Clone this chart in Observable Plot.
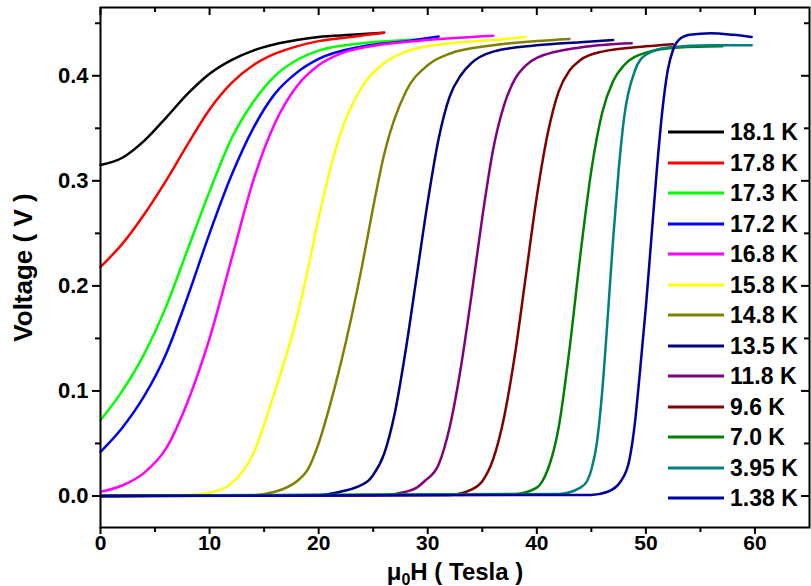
<!DOCTYPE html>
<html><head><meta charset="utf-8">
<script src="https://cdn.jsdelivr.net/npm/d3@7"></script>
<script src="https://cdn.jsdelivr.net/npm/@observablehq/plot@0.6"></script>
<style>
body{margin:0;background:#fff;}
#wrap{position:relative;width:811px;height:586px;font-family:"Liberation Sans",Arial,sans-serif;}
#legend{position:absolute;left:668px;top:117px;}
.row{display:flex;align-items:center;height:30.5px;}
.row svg{width:56px;height:6px;margin-right:6px;display:block}
.row span{font-size:23px;font-weight:bold;color:#000;line-height:30.5px;white-space:nowrap}
</style></head>
<body><div id="wrap"></div>
<script>
// ---- data ----
const temps  = ["18.1 K","17.8 K","17.3 K","17.2 K","16.8 K","15.8 K","14.8 K","13.5 K","11.8 K","9.6 K","7.0 K","3.95 K","1.38 K"];
const colors = ["#000000","#ff0000","#00ff00","#0000ff","#ff00ff","#ffff00","#808000","#000080","#800080","#800000","#008000","#008080","#0000a0"];

const H_181 = [0,2,4,6,8,10,12,14,16,18,20,23,26];
const V_181 = [0.315,0.322,0.338,0.36,0.383,0.402,0.415,0.424,0.43,0.434,0.437,0.439,0.441];
const H_178 = [0,2,4,6,8,10,12,14,16,18,20,23,26];
const V_178 = [0.218,0.24,0.268,0.3,0.335,0.368,0.393,0.41,0.421,0.428,0.433,0.437,0.441];
const H_173 = [0,2,4,6,8,10,12,14,16,18,20,24,28,30];
const V_173 = [0.072,0.1,0.135,0.18,0.235,0.29,0.34,0.375,0.4,0.415,0.424,0.431,0.434,0.435];
const H_172 = [0,2,4,6,8,10,12,14,16,18,20,24,28,31];
const V_172 = [0.042,0.065,0.095,0.135,0.19,0.25,0.305,0.35,0.383,0.403,0.416,0.428,0.433,0.4375];
const H_168 = [0,2,4,6,8,10,12,14,16,18,20,22,26,30,36];
const V_168 = [0.004,0.01,0.022,0.045,0.09,0.15,0.225,0.3,0.355,0.39,0.41,0.421,0.43,0.434,0.438];
const H_158 = [0,8,10,12,14,16,18,19,20,22,24,26,28,32,36,39];
const V_158 = [0,0.001,0.003,0.012,0.04,0.1,0.17,0.215,0.265,0.345,0.39,0.412,0.423,0.431,0.434,0.437];
const H_148 = [0,14,16,18,19,20,21,22,23,24,25,26,28,30,32,36,40,43];
const V_148 = [0,0.001,0.004,0.014,0.025,0.05,0.085,0.125,0.17,0.22,0.275,0.325,0.385,0.41,0.421,0.429,0.433,0.435];
const H_135 = [0,20,22,24.5,25,26,27,28,29,30,31,32,33,34,36,40,44,47];
const V_135 = [0,0.001,0.004,0.014,0.02,0.04,0.08,0.14,0.21,0.28,0.34,0.38,0.4,0.412,0.423,0.429,0.432,0.434];
const H_118 = [0,26,28,29,29.7,31,32,33,34,35,36,37,38,39,40,44,48.7];
const V_118 = [0,0.001,0.004,0.008,0.014,0.03,0.065,0.12,0.19,0.265,0.33,0.372,0.397,0.41,0.417,0.427,0.431];
const H_96  = [0,32,34,35,36,37,38,39,40,41,42,43,44,46,50,52.5];
const V_96  = [0,0.001,0.006,0.014,0.035,0.075,0.135,0.21,0.285,0.345,0.385,0.405,0.415,0.423,0.428,0.43];
const H_70  = [0,38,40,40.5,41,42,43,44,45,46,47,48,50,53,57];
const V_70  = [0,0.002,0.008,0.014,0.025,0.065,0.14,0.23,0.31,0.365,0.395,0.41,0.422,0.427,0.428];
const H_395 = [0,42,44,44.6,45,45.5,46,46.5,47,47.5,48,49,50,52,56,59.7];
const V_395 = [0,0.002,0.008,0.014,0.025,0.05,0.1,0.17,0.245,0.31,0.36,0.405,0.42,0.427,0.429,0.429];
const H_138 = [0,45,46.5,47.7,48.5,49,49.4,50,50.5,51,51.5,52,52.5,53,54,56,58,59.7];
const V_138 = [0,0.001,0.004,0.014,0.035,0.07,0.112,0.18,0.245,0.31,0.366,0.405,0.425,0.434,0.439,0.4405,0.439,0.437];

const seriesH = [H_181,H_178,H_173,H_172,H_168,H_158,H_148,H_135,H_118,H_96,H_70,H_395,H_138];
const seriesV = [V_181,V_178,V_173,V_172,V_168,V_158,V_148,V_135,V_118,V_96,V_70,V_395,V_138];

const xMajor = [0,10,20,30,40,50,60];
const xMinor = [5,15,25,35,45,55];
const yMajor = [0,0.1,0.2,0.3,0.4];
const yMinor = [0.05,0.15,0.25,0.35,0.45];

// ---- chart ----
const W = 811, HT = 586, mL = 100, mR = 2, mT = 7, mB = 59;
const pw = W - mL - mR, ph = HT - mT - mB;
const font = '"Liberation Sans", Arial, sans-serif';

const lineMarks = seriesH.map((hs, i) =>
  Plot.line(hs.map((h, j) => ({h, v: seriesV[i][j]})), {
    x: "h", y: "v", stroke: colors[i], strokeWidth: 2.5, curve: "monotone-x"
  })
);

const chart = Plot.plot({
  width: W, height: HT,
  marginLeft: mL, marginRight: mR, marginTop: mT, marginBottom: mB,
  x: {domain: [0, 65]},
  y: {domain: [-0.03, 0.465]},
  style: {fontFamily: font, color: "#000", background: "#fff"},
  marks: [
    ...lineMarks,
    Plot.frame({stroke: "#000", strokeWidth: 2}),
    Plot.axisX({ticks: xMajor, tickSize: 7, tickPadding: 1, tickFormat: d => String(d), fontSize: 21, fontWeight: "bold", strokeWidth: 2, label: null}),
    Plot.axisX({ticks: xMinor, tickSize: 5, tickFormat: () => "", strokeWidth: 2, label: null}),
    Plot.axisY({ticks: yMajor, tickSize: 8, tickPadding: 4, tickFormat: d3.format(".1f"), fontSize: 22, fontWeight: "bold", strokeWidth: 2, label: null}),
    Plot.axisY({ticks: yMinor, tickSize: 5, tickFormat: () => "", strokeWidth: 2, label: null}),
    Plot.tickX(xMajor, {x: d => d, insetBottom: ph - 8, strokeWidth: 2}),
    Plot.tickX(xMinor, {x: d => d, insetBottom: ph - 5, strokeWidth: 2}),
    Plot.tickY(yMajor, {y: d => d, insetLeft: pw - 8, strokeWidth: 2}),
    Plot.tickY(yMinor, {y: d => d, insetLeft: pw - 5, strokeWidth: 2}),
    Plot.axisY({ticks: [], label: "Voltage ( V )", labelAnchor: "center", labelArrow: "none", labelOffset: 87, fontSize: 26, fontWeight: "bold"}),
    Plot.axisX({ticks: [], label: "μ0H ( Tesla )", labelAnchor: "center", labelArrow: "none", labelOffset: 52, fontSize: 24, fontWeight: "bold"})
  ]
});

// subscript 0 in the x label
d3.select(chart).selectAll("text").each(function() {
  if (this.textContent === "μ0H ( Tesla )") {
    const t = d3.select(this);
    t.text(null);
    t.append("tspan").text("μ");
    t.append("tspan").attr("dy", 5).attr("font-size", 16).text("0");
    t.append("tspan").attr("dy", -5).text("H ( Tesla )");
  }
});

const wrap = document.getElementById("wrap");
wrap.appendChild(chart);

// legend
const legend = document.createElement("div");
legend.id = "legend";
temps.forEach((t, i) => {
  const row = document.createElement("div");
  row.className = "row";
  row.innerHTML = `<svg viewBox="0 0 56 6"><line x1="0" x2="56" y1="3" y2="3" stroke="${colors[i]}" stroke-width="3"/></svg><span>${t}</span>`;
  legend.appendChild(row);
});
wrap.appendChild(legend);
</script>
</body></html>
